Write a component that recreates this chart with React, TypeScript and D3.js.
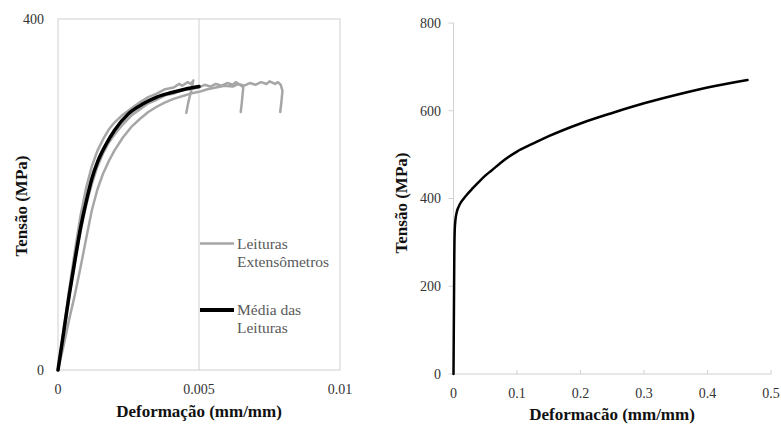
import React from "react";
import * as d3 from "d3";

// strain (mm/mm), stress (MPa) — left panel, individual gauge readings
const gauge1: [number, number][] = [
  [0, 0], [0.0002, 45], [0.0004, 92], [0.0006, 136], [0.0008, 176], [0.001, 208],
  [0.0012, 232], [0.0014, 250], [0.0016, 263], [0.0018, 274], [0.002, 282],
  [0.0023, 291], [0.0026, 298], [0.0029, 305], [0.0032, 311], [0.0035, 315],
  [0.0038, 320], [0.0041, 322], [0.0043, 326], [0.0044, 324], [0.0046, 328],
  [0.0047, 326], [0.0048, 330], [0.00472, 318], [0.00462, 305], [0.00455, 293],
];
const gauge2: [number, number][] = [
  [0, 0], [0.0002, 42], [0.0004, 84], [0.0006, 122], [0.0008, 158], [0.001, 188],
  [0.0012, 212], [0.0014, 232], [0.0016, 247], [0.0018, 259], [0.002, 268],
  [0.0023, 280], [0.0026, 290], [0.0029, 297], [0.0032, 304], [0.0035, 308],
  [0.0038, 313], [0.0041, 315], [0.0044, 319], [0.0047, 320], [0.005, 322],
  [0.0052, 325], [0.0054, 323], [0.0056, 326], [0.0058, 324], [0.006, 327],
  [0.0062, 325], [0.0063, 328], [0.0065, 324], [0.00657, 322], [0.00652, 305],
  [0.00648, 294],
];
const gauge3: [number, number][] = [
  [0, 0], [0.0002, 28], [0.0004, 58], [0.0006, 86], [0.0008, 117], [0.001, 150],
  [0.0012, 182], [0.0014, 206], [0.0016, 224], [0.0018, 238], [0.002, 250],
  [0.0023, 265], [0.0026, 277], [0.0029, 286], [0.0032, 294], [0.0035, 300],
  [0.0038, 305], [0.0041, 309], [0.0044, 312], [0.0047, 315], [0.005, 317],
  [0.0053, 320], [0.0056, 322], [0.0059, 324], [0.0062, 323], [0.0064, 326],
  [0.0066, 324], [0.0068, 327], [0.007, 325], [0.0072, 328], [0.0074, 326],
  [0.0075, 329], [0.0077, 326], [0.0078, 328], [0.0079, 325], [0.00796, 318],
  [0.00792, 305], [0.00788, 294],
];
// mean of the readings
const mediaLeituras: [number, number][] = [
  [0, 0], [0.0002, 43], [0.0004, 86], [0.0006, 125], [0.0008, 162], [0.001, 192],
  [0.0012, 218], [0.0014, 237], [0.0017, 257], [0.002, 273], [0.0025, 292],
  [0.003, 303], [0.0035, 311], [0.004, 316], [0.0045, 320], [0.005, 323],
];

// right panel, full curve
const curvaCompleta: [number, number][] = [
  [0, 0], [0.0012, 260], [0.0015, 300], [0.002, 330], [0.003, 350], [0.005, 368],
  [0.008, 381], [0.012, 392], [0.015, 398], [0.02, 407], [0.03, 423], [0.04, 438],
  [0.05, 452], [0.06, 464], [0.08, 488], [0.1, 507], [0.125, 525], [0.15, 542],
  [0.2, 571], [0.25, 595], [0.3, 617], [0.35, 636], [0.4, 653], [0.463, 670],
];

const leftXTicks = [0, 0.005, 0.01];
const leftXLabels = ["0", "0.005", "0.01"];
const leftYTicks = [0, 400];
const rightXTicks = [0, 0.1, 0.2, 0.3, 0.4, 0.5];
const rightYTicks = [0, 200, 400, 600, 800];

const FAMILY = "Liberation Serif";

export default function App() {
  // left panel
  const xL = d3.scaleLinear().domain([0, 0.01]).range([58, 340]);
  const yL = d3.scaleLinear().domain([0, 400]).range([370, 19]);
  const lineL = d3.line<[number, number]>().x(d => xL(d[0])).y(d => yL(d[1]));
  const lineMean = d3.line<[number, number]>()
    .x(d => xL(d[0])).y(d => yL(d[1])).curve(d3.curveMonotoneX);

  // right panel
  const xR = d3.scaleLinear().domain([0, 0.5]).range([453.5, 771]);
  const yR = d3.scaleLinear().domain([0, 800]).range([374, 23]);
  const lineR = d3.line<[number, number]>()
    .x(d => xR(d[0])).y(d => yR(d[1])).curve(d3.curveMonotoneX);

  const gray = "#a6a6a6";
  const axisGray = "#d0d0d0";

  return (
    <svg width={781} height={425}
      style={{ position: "absolute", left: 0, top: 0, background: "#fff" }}
      fontFamily={FAMILY}>
      {/* ---- left ---- */}
      <rect x={xL(0)} y={yL(400)} width={xL(0.01) - xL(0)} height={yL(0) - yL(400)}
        fill="none" stroke={axisGray} strokeWidth={1} />
      <line x1={xL(0.005)} x2={xL(0.005)} y1={yL(0)} y2={yL(400)} stroke={axisGray} strokeWidth={1} />
      {leftYTicks.map(t => (
        <text key={t} x={44} y={yL(t)} dy="0.35em" textAnchor="end" fontSize={14} fill="#333">{t}</text>
      ))}
      {leftXTicks.map((t, i) => (
        <text key={t} x={xL(t)} y={394} textAnchor="middle" fontSize={14} fill="#333">{leftXLabels[i]}</text>
      ))}
      {[gauge3, gauge2, gauge1].map((g, i) => (
        <path key={i} d={lineL(g) || ""} fill="none" stroke={gray} strokeWidth={2.5}
          strokeLinejoin="round" strokeLinecap="round" />
      ))}
      <path d={lineMean(mediaLeituras) || ""} fill="none" stroke="#000" strokeWidth={3.5} strokeLinecap="round" />

      {/* legend */}
      <line x1={200} x2={234} y1={243.5} y2={243.5} stroke={gray} strokeWidth={2.5} />
      <text x={237} y={243.5} dy="0.35em" fontSize={15.5} fill="#595959">Leituras</text>
      <text x={237} y={261.5} dy="0.35em" fontSize={15.5} fill="#595959">Extensômetros</text>
      <line x1={200} x2={234} y1={310} y2={310} stroke="#000" strokeWidth={4} />
      <text x={237} y={310} dy="0.35em" fontSize={15.5} fill="#595959">Média das</text>
      <text x={237} y={328} dy="0.35em" fontSize={15.5} fill="#595959">Leituras</text>

      <text x={199} y={417} textAnchor="middle" fontSize={17} fontWeight="bold" fill="#111">Deformação (mm/mm)</text>
      <text transform="translate(27,206) rotate(-90)" textAnchor="middle" fontSize={17}
        fontWeight="bold" fill="#111">Tensão (MPa)</text>

      {/* ---- right ---- */}
      <line x1={xR(0)} x2={xR(0)} y1={yR(800)} y2={yR(0)} stroke={axisGray} />
      <line x1={xR(0)} x2={xR(0.5)} y1={yR(0)} y2={yR(0)} stroke={axisGray} />
      {rightYTicks.map(t => (
        <g key={t}>
          <line x1={xR(0) - 5} x2={xR(0)} y1={yR(t)} y2={yR(t)} stroke={axisGray} />
          <text x={441} y={yR(t)} dy="0.35em" textAnchor="end" fontSize={14} fill="#333">{t}</text>
        </g>
      ))}
      {rightXTicks.map(t => (
        <g key={t}>
          <line x1={xR(t)} x2={xR(t)} y1={yR(0) - 4} y2={yR(0)} stroke={axisGray} />
          <text x={xR(t)} y={398} textAnchor="middle" fontSize={14} fill="#333">{t}</text>
        </g>
      ))}
      <path d={lineR(curvaCompleta) || ""} fill="none" stroke="#000" strokeWidth={2.5} strokeLinecap="round" />

      <text x={612} y={420} textAnchor="middle" fontSize={17} fontWeight="bold" fill="#111">Deformacão (mm/mm)</text>
      <text transform="translate(407,203) rotate(-90)" textAnchor="middle" fontSize={17}
        fontWeight="bold" fill="#111">Tensão (MPa)</text>
    </svg>
  );
}
